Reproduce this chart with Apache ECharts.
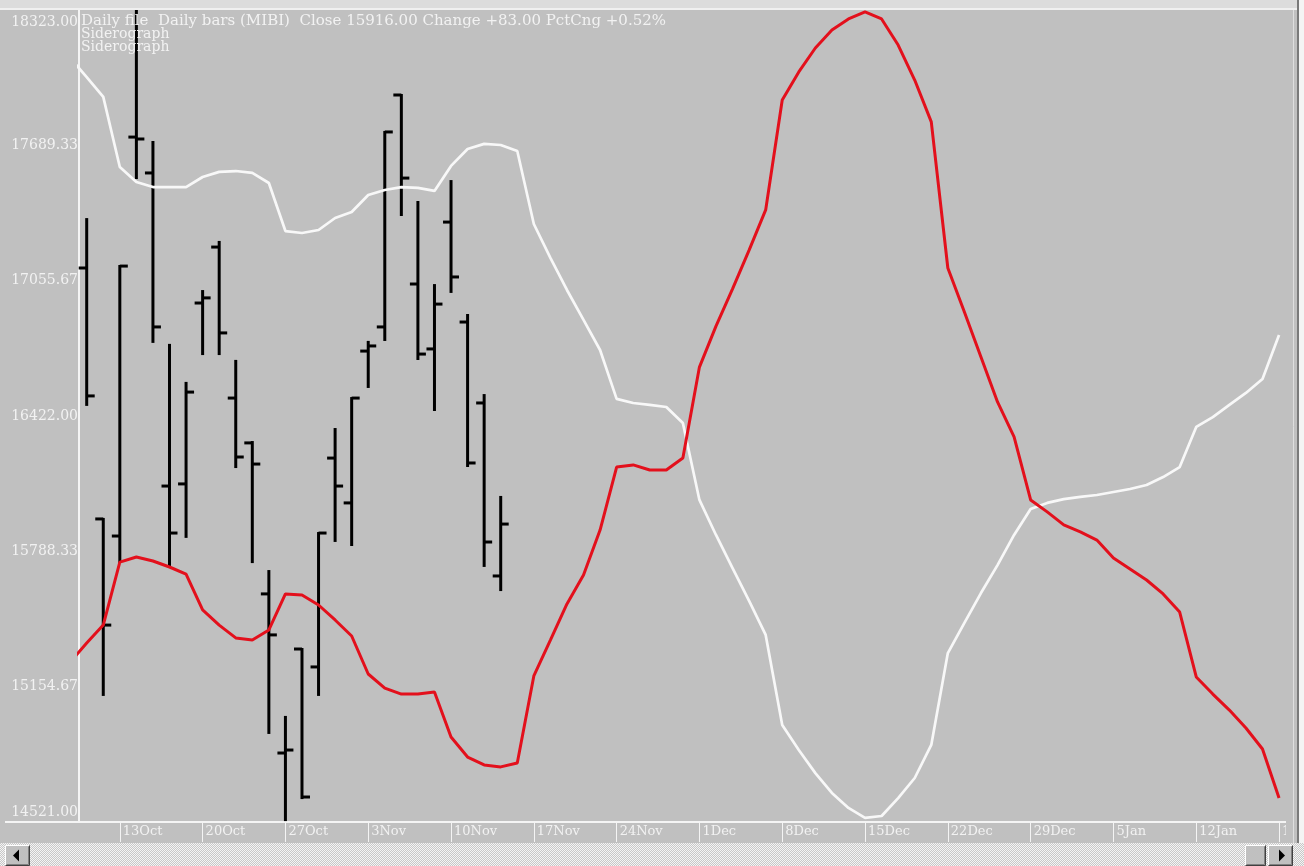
<!DOCTYPE html>
<html>
<head>
<meta charset="utf-8">
<script src="https://cdn.jsdelivr.net/npm/echarts@6/dist/echarts.min.js"></script>
<style>
html,body{margin:0;padding:0;background:#c0c0c0;overflow:hidden;}
#chart{width:1304px;height:866px;}
</style>
</head>
<body>
<div id="chart"></div>
<script>
// ---- DATA (trading-day index: 0 = Thu 9 Oct, -1 = Wed 8 Oct) ----
const tickLabels = ['13Oct','20Oct','27Oct','3Nov','10Nov','17Nov','24Nov','1Dec','8Dec','15Dec','22Dec','29Dec','5Jan','12Jan','19Jan'];
const firstTickDay = 2;      // 13Oct is the 3rd trading day shown
const daysPerWeek = 5;

const yTicks = [14521.00, 15154.67, 15788.33, 16422.00, 17055.67, 17689.33, 18323.00];

// Daily bars (MIBI), starting at day 0
const barOpen  = [17115,15940,15860,17728,17560,16094,16104,16951,17213,16506,16296,15589,14844,15331,15247,16225,16015,16726,16839,17925,17040,16736,17330,16862,16483,15673];
const barHigh  = [17344,15940,17124,18323,17705,16755,16577,17007,17237,16680,16300,15696,15013,15331,15874,16361,16506,16769,17752,17925,17424,17035,17522,16895,16520,16043];
const barLow   = [16474,15116,15738,17536,16769,15724,15856,16712,16712,16183,15738,14938,14530,14633,15116,15837,15818,16558,16778,17363,16689,16450,17003,16188,15720,15607];
const barClose = [16516,15443,17124,17719,16839,15874,16534,16975,16811,16230,16197,15397,14858,14638,15874,16094,16506,16750,17752,17536,16712,16946,17073,16202,15832,15916];

// Siderograph lines, starting at day -1
const lineStartDay = -1;
const siderographWhite = [18098,18009,17916,17588,17518,17494,17494,17494,17541,17565,17569,17560,17513,17288,17279,17293,17349,17377,17457,17480,17494,17490,17476,17593,17672,17696,17691,17663,17321,17162,17012,16872,16731,16502,16483,16474,16464,16389,16029,15865,15710,15556,15397,14975,14858,14750,14657,14587,14540,14549,14633,14727,14882,15312,15453,15593,15724,15865,15987,16015,16033,16043,16052,16066,16080,16099,16136,16183,16371,16417,16474,16530,16595,16801];
const siderographRed   = [15270,15359,15443,15738,15762,15743,15715,15682,15514,15443,15383,15373,15420,15589,15584,15537,15467,15392,15214,15148,15120,15120,15130,14919,14825,14788,14779,14797,15205,15373,15542,15678,15888,16183,16193,16169,16169,16225,16651,16843,17017,17199,17387,17902,18033,18145,18229,18281,18314,18281,18159,17995,17799,17115,16909,16698,16488,16324,16029,15973,15912,15879,15841,15757,15706,15654,15589,15504,15200,15120,15045,14961,14863,14633];

const headerText = 'Daily file  Daily bars (MIBI)  Close 15916.00 Change +83.00 PctCng +0.52%';
const indicatorNames = ['Siderograph','Siderograph'];

// ---- build ----
const FONT = 'DejaVu Serif';
const FS = 14;
const FSX = 13;
const TXT = '#f2f2f2';

const ohlcData = barOpen.map((o,i)=>[i, o, barHigh[i], barLow[i], barClose[i]]);
const whiteData = siderographWhite.map((v,i)=>[lineStartDay+i, v]);
const redData = siderographRed.map((v,i)=>[lineStartDay+i, v]);
const tickDays = tickLabels.map((_,k)=>firstTickDay + k*daysPerWeek);

// checker pattern for scrollbar track
const pc = document.createElement('canvas');
pc.width = 2; pc.height = 2;
const pctx = pc.getContext('2d');
pctx.fillStyle = '#c8c8c8'; pctx.fillRect(0,0,2,2);
pctx.fillStyle = '#f4f4f4'; pctx.fillRect(0,0,1,1); pctx.fillRect(1,1,1,1);

function button(x, y, w, h, tri) {
  const Z = 110;
  const ch = [
    {type:'rect', z:Z, shape:{x:x, y:y, width:w, height:h}, style:{fill:'#c0c0c0'}},
    {type:'polyline', z:Z+1, shape:{points:[[x+0.5,y+h-0.5],[x+0.5,y+0.5],[x+w-0.5,y+0.5]]}, style:{stroke:'#ffffff', lineWidth:1, fill:null}},
    {type:'polyline', z:Z+1, shape:{points:[[x+0.5,y+h-0.5],[x+w-0.5,y+h-0.5],[x+w-0.5,y+0.5]]}, style:{stroke:'#404040', lineWidth:1, fill:null}},
    {type:'polyline', z:Z+1, shape:{points:[[x+1.5,y+h-1.5],[x+w-1.5,y+h-1.5],[x+w-1.5,y+1.5]]}, style:{stroke:'#808080', lineWidth:1, fill:null}}
  ];
  if (tri) ch.push({type:'polygon', z:Z+2, shape:{points:tri}, style:{fill:'#000000'}});
  return ch;
}

const chart = echarts.init(document.getElementById('chart'), null, {renderer:'canvas'});
chart.setOption({
  backgroundColor: '#c0c0c0',
  animation: false,
  title: {
    text: '{h|' + headerText + '}\n' + indicatorNames.map(n => '{s|' + n + '}').join('\n'),
    left: 81, top: 14, padding: 0, z: 10,
    textStyle: {
      color: TXT, fontFamily: FONT, fontSize: FS, fontWeight: 'normal', lineHeight: 13,
      rich: {
        h: {color: TXT, fontFamily: FONT, fontSize: 15, lineHeight: 14},
        s: {color: TXT, fontFamily: FONT, fontSize: FS, lineHeight: 13}
      }
    }
  },
  grid: {left: 79, top: 10, right: 18, bottom: 44, containLabel: false, outerBoundsMode: 'none'},
  xAxis: {
    type: 'value',
    min: -0.465, max: 72.42,
    splitLine: {show: false},
    axisLine: {show: true, onZero: false, lineStyle: {color: '#f4f4f4', width: 2}},
    axisTick: {show: true, customValues: tickDays, length: 20, lineStyle: {color: '#f4f4f4', width: 1}},
    axisLabel: {
      customValues: tickDays, margin: 3, align: 'left', padding: [0,0,0,3],
      color: TXT, fontFamily: FONT, fontSize: FSX, hideOverlap: false,
      formatter: (v) => tickLabels[Math.round((v - firstTickDay)/daysPerWeek)]
    }
  },
  yAxis: {
    type: 'value',
    min: yTicks[0], max: yTicks[yTicks.length-1],
    splitLine: {show: false},
    axisLine: {show: true, onZero: false, lineStyle: {color: '#f4f4f4', width: 2}},
    axisTick: {show: false},
    axisLabel: {
      customValues: yTicks, margin: 1, align: 'right',
      color: TXT, fontFamily: FONT, fontSize: FS,
      formatter: (v) => {
        const s = v.toFixed(2);
        const k = Math.abs(v - yTicks[0]) < 0.01 ? 'lo' : (Math.abs(v - yTicks[yTicks.length-1]) < 0.01 ? 'hi' : 'mid');
        return '{' + k + '|' + s + '}';
      },
      rich: {
        lo:  {color: TXT, fontFamily: FONT, fontSize: FS, padding: [0,0,20,0]},
        hi:  {color: TXT, fontFamily: FONT, fontSize: FS, padding: [24,0,0,0]},
        mid: {color: TXT, fontFamily: FONT, fontSize: FS, padding: [0,0,0,0]}
      }
    }
  },
  series: [
    {
      type: 'custom',
      name: 'MIBI',
      z: 2,
      encode: {x: 0, y: [1,2,3,4]},
      data: ohlcData,
      renderItem: (params, api) => {
        const x = api.value(0);
        const o = api.coord([x, api.value(1)]);
        const h = api.coord([x, api.value(2)]);
        const l = api.coord([x, api.value(3)]);
        const c = api.coord([x, api.value(4)]);
        const px = o[0];
        const st = {stroke: '#000000', lineWidth: 3};
        return {type: 'group', children: [
          {type: 'line', shape: {x1: px, y1: h[1]-1, x2: px, y2: l[1]+1}, style: st},
          {type: 'line', shape: {x1: px-8, y1: o[1], x2: px, y2: o[1]}, style: st},
          {type: 'line', shape: {x1: px, y1: c[1], x2: px+8, y2: c[1]}, style: st}
        ]};
      }
    },
    {
      type: 'line', name: 'Siderograph', z: 3,
      data: whiteData, showSymbol: false, symbol: 'none', clip: true,
      lineStyle: {color: '#f8f8f8', width: 2.7}
    },
    {
      type: 'line', name: 'Siderograph ', z: 4,
      data: redData, showSymbol: false, symbol: 'none', clip: true,
      lineStyle: {color: '#e3101c', width: 3}
    }
  ],
  graphic: [
    {type:'rect', z: 100, shape:{x:0, y:0, width:1304, height:8}, style:{fill:'#dcdcdc'}},
    {type:'line', z: 101, shape:{x1:0, y1:9, x2:1297, y2:9}, style:{stroke:'#f0f0f0', lineWidth:2}},
    {type:'rect', z: 100, shape:{x:1286, y:10, width:18, height:833}, style:{fill:'#c0c0c0'}},
    {type:'line', z: 101, shape:{x1:1293.5, y1:10, x2:1293.5, y2:843}, style:{stroke:'#dedede', lineWidth:1}},
    {type:'line', z: 101, shape:{x1:1298, y1:0, x2:1298, y2:843}, style:{stroke:'#7a7a7a', lineWidth:2}},
    {type:'rect', z: 100, shape:{x:1299, y:0, width:5, height:866}, style:{fill:'#f4f4f4'}},
    {type:'line', z: 101, shape:{x1:5, y1:822, x2:80, y2:822}, style:{stroke:'#f4f4f4', lineWidth:2}},
    {type:'rect', z: 100, shape:{x:0, y:843, width:1304, height:23}, style:{fill:{image: pc, repeat:'repeat'}}}
  ].concat(
    button(5, 845, 25, 21, [[13,855.5],[19,849.5],[19,861.5]]),
    button(1245, 845, 21, 21, null),
    button(1268, 845, 25, 21, [[1285,855.5],[1279,849.5],[1279,861.5]])
  )
});
</script>
</body>
</html>
